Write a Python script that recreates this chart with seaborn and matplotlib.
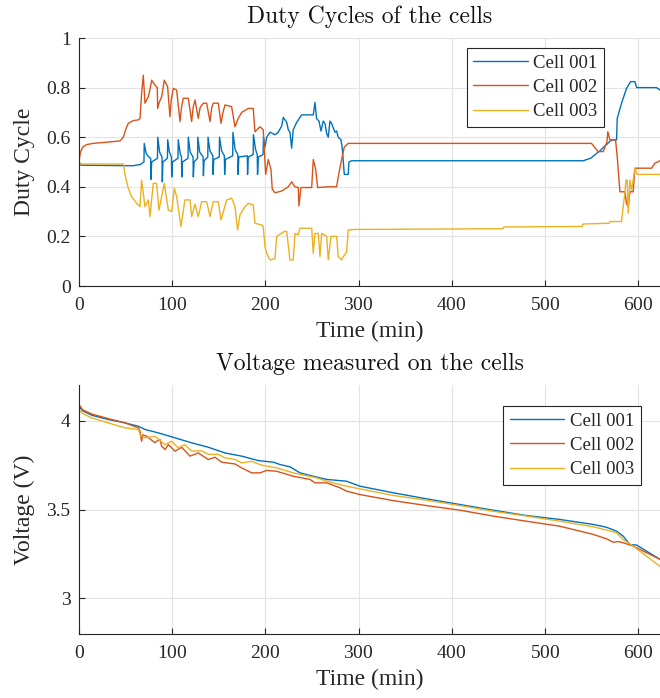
import pandas as pd
import seaborn as sns
import matplotlib.pyplot as plt
from matplotlib.ticker import FormatStrFormatter

# (time in min, duty cycle)
duty_001 = [
    (0, 0.50), (2, 0.487), (58, 0.485), (66, 0.49), (69.7, 0.50),
    (70, 0.575), (72, 0.535), (75, 0.52), (76.9, 0.515), (77.2, 0.43), (78, 0.50),
    (84.2, 0.515), (84.5, 0.60), (86.5, 0.54), (89.1, 0.52), (89.4, 0.42), (90, 0.50),
    (94.9, 0.515), (95.2, 0.59), (97, 0.54), (99.2, 0.52), (99.5, 0.44), (100.2, 0.50),
    (106.2, 0.515), (106.5, 0.59), (108.5, 0.535), (110, 0.52), (110.3, 0.44), (111, 0.50),
    (117, 0.515), (117.3, 0.60), (119.3, 0.54), (122.4, 0.52), (122.7, 0.44), (123.5, 0.50),
    (127.2, 0.515), (127.5, 0.60), (129.5, 0.54), (133.2, 0.52), (133.5, 0.445), (134.2, 0.505),
    (138.2, 0.52), (138.5, 0.60), (140.5, 0.545), (143.6, 0.525), (143.9, 0.45), (144.6, 0.51),
    (150.5, 0.52), (150.8, 0.60), (153, 0.545), (156, 0.525), (156.3, 0.45), (157, 0.51),
    (164.9, 0.525), (165.2, 0.62), (167.5, 0.55), (170.4, 0.53), (170.7, 0.45), (171.5, 0.52),
    (180.6, 0.525), (180.9, 0.45), (181.6, 0.52),
    (186.9, 0.53), (187.2, 0.61), (189.5, 0.55), (191.3, 0.53), (191.6, 0.45), (192.5, 0.52),
    (197.5, 0.53), (198, 0.60), (199.6, 0.56), (201.4, 0.60), (205, 0.62), (210.3, 0.61),
    (213.8, 0.62), (217.5, 0.645), (219.2, 0.68), (222.9, 0.66), (224.6, 0.63), (226.4, 0.62),
    (228.2, 0.556), (229.9, 0.63), (233.6, 0.66), (237.1, 0.68), (239, 0.69), (251.4, 0.69),
    (253.2, 0.74), (255, 0.675), (257.5, 0.665), (259.7, 0.625), (262.1, 0.665), (264, 0.655),
    (265.8, 0.615), (267.5, 0.60), (269.3, 0.665), (271.1, 0.655), (274.7, 0.62), (276.5, 0.625),
    (278.2, 0.60), (281.1, 0.59), (282.5, 0.556), (284.7, 0.45), (288.9, 0.45), (289.7, 0.50),
    (292.6, 0.505), (541, 0.505), (549, 0.515), (559, 0.545), (566, 0.57), (571.4, 0.589),
    (576.9, 0.589), (577.6, 0.676), (582.2, 0.737), (587.6, 0.797), (591.9, 0.824), (596.6, 0.824),
    (598.4, 0.80), (619.8, 0.80), (623.5, 0.79),
]

duty_002 = [
    (0, 0.50), (1.5, 0.54), (4, 0.56), (8, 0.57), (15, 0.575), (30, 0.58), (44, 0.585),
    (47.6, 0.60), (50, 0.63), (52.9, 0.656), (58.3, 0.667), (63.7, 0.67), (65.5, 0.676),
    (67.2, 0.777), (69, 0.85), (70.8, 0.737), (72.5, 0.75), (74.4, 0.763), (76.5, 0.80),
    (78, 0.83), (81.5, 0.81), (84, 0.80), (84.4, 0.716), (86, 0.74), (88.7, 0.763),
    (91.5, 0.83), (95.1, 0.804), (97.6, 0.683), (99, 0.75), (101.2, 0.797), (104.8, 0.79),
    (108.4, 0.663), (110, 0.72), (111.9, 0.757), (117.3, 0.757), (120.9, 0.663), (122.5, 0.72),
    (124.5, 0.75), (128, 0.676), (130, 0.72), (133.4, 0.737), (137, 0.737), (140.6, 0.663),
    (142.5, 0.72), (144.1, 0.737), (149.5, 0.737), (152.4, 0.656), (154.5, 0.70), (156.7, 0.73),
    (163.8, 0.723), (167.4, 0.642), (170.9, 0.676), (174.6, 0.70), (181.7, 0.716), (187, 0.716),
    (188.8, 0.622), (194.2, 0.642), (197.7, 0.63), (200.3, 0.45), (203.1, 0.51), (206, 0.47),
    (207.4, 0.39), (210.3, 0.376), (217.5, 0.383), (224.6, 0.40), (228.2, 0.42), (231.8, 0.40),
    (235.3, 0.397), (236, 0.323), (238.2, 0.397), (249.7, 0.397), (251.4, 0.51), (254, 0.47),
    (256.1, 0.397), (267.5, 0.40), (276.5, 0.40), (278.2, 0.44), (281.8, 0.51), (284.7, 0.56),
    (288.9, 0.575), (550, 0.575), (557, 0.542), (562.6, 0.542), (566.5, 0.58), (567.5, 0.622),
    (569.7, 0.589), (575.8, 0.589), (577.6, 0.521), (580.5, 0.38), (585.8, 0.38), (587.6, 0.333),
    (589.4, 0.32), (591.2, 0.38), (594.7, 0.38), (596.6, 0.475), (614.5, 0.475), (618, 0.495),
    (623.5, 0.505),
]

duty_003 = [
    (0, 0.50), (2, 0.492), (47.6, 0.492), (49.4, 0.448), (52.9, 0.394), (56.5, 0.36),
    (61.9, 0.333), (65.5, 0.32), (67.2, 0.427), (69, 0.374), (70.8, 0.32), (74.4, 0.347),
    (76.2, 0.28), (79.7, 0.414), (83.3, 0.414), (85.8, 0.306), (91.5, 0.414), (95.9, 0.306),
    (99.5, 0.30), (102.3, 0.394), (104.8, 0.36), (109.4, 0.24), (113.7, 0.347), (119.1, 0.347),
    (120.9, 0.28), (124.5, 0.33), (128, 0.28), (131.6, 0.34), (137, 0.34), (140.6, 0.28),
    (144.1, 0.34), (149.5, 0.34), (152.4, 0.266), (158.5, 0.347), (163.8, 0.354), (167.4, 0.32),
    (170.2, 0.226), (172.7, 0.286), (178.1, 0.32), (181.7, 0.333), (187, 0.327), (188.8, 0.253),
    (196, 0.246), (197.7, 0.24), (199.6, 0.158), (201.4, 0.132), (205, 0.105), (210.3, 0.11),
    (212.1, 0.20), (220.3, 0.22), (222.9, 0.22), (226.4, 0.105), (229.9, 0.105), (231.8, 0.212),
    (235.3, 0.206), (237.1, 0.233), (249.7, 0.233), (251.4, 0.132), (253.2, 0.212), (256.8, 0.212),
    (258.6, 0.118), (260.4, 0.212), (265.8, 0.20), (267.5, 0.105), (270.4, 0.20), (276.5, 0.20),
    (278.2, 0.118), (281.8, 0.105), (283.6, 0.118), (287.2, 0.138), (288.9, 0.226), (296.1, 0.228),
    (455, 0.231), (456, 0.238), (540, 0.24), (541, 0.25), (569, 0.253), (570, 0.26), (582.2, 0.26),
    (584, 0.32), (585.8, 0.374), (586.9, 0.427), (588.3, 0.427), (589.4, 0.293), (591.2, 0.427),
    (593, 0.387), (594.7, 0.427), (596.6, 0.475), (598.4, 0.454), (600, 0.45), (623.5, 0.45),
]

# (time in min, voltage in V)
volt_001 = [
    (0, 4.08), (4, 4.055), (13.6, 4.03), (31.4, 4.006), (49.4, 3.987), (63.7, 3.968), (70.8, 3.95),
    (85.1, 3.931), (103, 3.903), (120.9, 3.875), (138.7, 3.85), (156.7, 3.818), (174.6, 3.80),
    (192.4, 3.775), (208.5, 3.766), (215.7, 3.753), (226.4, 3.74), (237.1, 3.706), (251.4, 3.687),
    (265.8, 3.669), (287.2, 3.659), (301.5, 3.631), (337.2, 3.594), (373, 3.56), (408.8, 3.528),
    (444.5, 3.496), (480.3, 3.466), (516, 3.444), (551.8, 3.416), (566.2, 3.40), (576.9, 3.378),
    (584, 3.35), (591.2, 3.303), (598.4, 3.30), (609, 3.266), (623.5, 3.22),
]

volt_002 = [
    (0, 4.09), (4, 4.06), (13.6, 4.037), (31.4, 4.011), (49.4, 3.987), (63.7, 3.959), (65.5, 3.94),
    (67.2, 3.884), (68.5, 3.92), (72.6, 3.912), (81.5, 3.875), (83.3, 3.884), (86.9, 3.893),
    (88.7, 3.856), (92.3, 3.837), (95.9, 3.865), (103, 3.828), (110.2, 3.85), (119.1, 3.80),
    (128, 3.818), (138.7, 3.781), (145.9, 3.794), (153, 3.766), (167.4, 3.756), (174.6, 3.734),
    (185.3, 3.706), (194.2, 3.706), (201.4, 3.72), (212.1, 3.715), (229.9, 3.687), (247.9, 3.669),
    (253.2, 3.65), (265.8, 3.65), (280, 3.622), (287.2, 3.603), (301.5, 3.584), (337.2, 3.55),
    (373, 3.522), (408.8, 3.496), (444.5, 3.463), (480.3, 3.434), (516, 3.406), (551.8, 3.36),
    (566.2, 3.335), (573.3, 3.316), (578.7, 3.32), (584, 3.313), (594.7, 3.294), (609, 3.257),
    (623.5, 3.22),
]

volt_003 = [
    (0, 4.062), (4, 4.04), (13.6, 4.015), (31.4, 3.987), (49.4, 3.959), (63.7, 3.95), (65.5, 3.921),
    (70.8, 3.903), (81.5, 3.912), (92.3, 3.865), (99.5, 3.884), (106.5, 3.846), (113.7, 3.865),
    (120.9, 3.828), (131.6, 3.83), (138.7, 3.81), (149.5, 3.81), (156.7, 3.79), (167.4, 3.781),
    (174.6, 3.762), (185.3, 3.771), (196, 3.749), (212.1, 3.734), (229.9, 3.706), (255, 3.678),
    (265.8, 3.659), (287.2, 3.631), (301.5, 3.616), (337.2, 3.579), (373, 3.552), (408.8, 3.522),
    (444.5, 3.49), (480.3, 3.463), (516, 3.434), (551.8, 3.403), (576.9, 3.37), (584, 3.331),
    (594.7, 3.294), (609, 3.238), (623.5, 3.18),
]

cells = ['Cell 001', 'Cell 002', 'Cell 003']
colors = ['#0072BD', '#D95319', '#EDB120']
x_ticks = [0, 100, 200, 300, 400, 500, 600]


def long_frame(series):
    rows = []
    for name, pts in zip(cells, series):
        for t, v in pts:
            rows.append({'time': t, 'value': v, 'cell': name})
    return pd.DataFrame(rows)


sns.set_theme(style='white')
plt.rcParams['font.family'] = ['Liberation Serif', 'DejaVu Serif']
plt.rcParams['axes.formatter.use_mathtext'] = True

fig = plt.figure(figsize=(6.6, 6.98), dpi=100)
ax1 = fig.add_axes([79 / 660, 1 - 286 / 698, 581 / 660, 248 / 698])
ax2 = fig.add_axes([79 / 660, 1 - 634 / 698, 581 / 660, 249 / 698])

panels = [
    (ax1, [duty_001, duty_002, duty_003], 'Duty Cycles of the cells', 'Duty Cycle',
     (0, 1), [0, 0.2, 0.4, 0.6, 0.8, 1], (0.9036, 0.96)),
    (ax2, [volt_001, volt_002, volt_003], 'Voltage measured on the cells', 'Voltage (V)',
     (2.8, 4.2), [3, 3.5, 4], (0.967, 0.916)),
]

for ax, series, title, ylabel, ylim, yticks, leg_pos in panels:
    df = long_frame(series)
    sns.lineplot(data=df, x='time', y='value', hue='cell', palette=dict(zip(cells, colors)),
                 estimator=None, sort=False, linewidth=1.0, legend=False, ax=ax)
    ax.set_xlim(0, 623.5)
    ax.set_ylim(*ylim)
    ax.set_xticks(x_ticks)
    ax.set_yticks(yticks)
    ax.yaxis.set_major_formatter(FormatStrFormatter('%g'))
    ax.grid(True, color='#e3e3e3', linewidth=0.8)
    ax.set_axisbelow(True)
    for side in ['top', 'right']:
        ax.spines[side].set_visible(False)
    for side in ['left', 'bottom']:
        ax.spines[side].set_color('#262626')
        ax.spines[side].set_linewidth(0.8)
    ax.tick_params(direction='in', length=4, width=0.8, color='#262626',
                   labelsize=14, labelcolor='#262626', left=True, bottom=True)
    ax.tick_params(axis='x', pad=8)
    ax.tick_params(axis='y', pad=6)
    ax.set_title(title, fontfamily='cmr10', fontsize=17, pad=11, color='#111111')
    ax.set_xlabel('Time (min)', fontsize=17, labelpad=5, color='#262626')
    ax.set_ylabel(ylabel, fontsize=17, labelpad=8, color='#262626')
    leg = ax.legend(ax.lines[:3], cells, loc='upper right', bbox_to_anchor=leg_pos,
                    borderaxespad=0, fontsize=13.5, frameon=True, fancybox=False,
                    handlelength=2.9, handletextpad=0.3, borderpad=0.35,
                    labelspacing=0.38, edgecolor='#262626', framealpha=1)
    leg.get_frame().set_linewidth(0.8)

fig.savefig('out.png', dpi=100)
